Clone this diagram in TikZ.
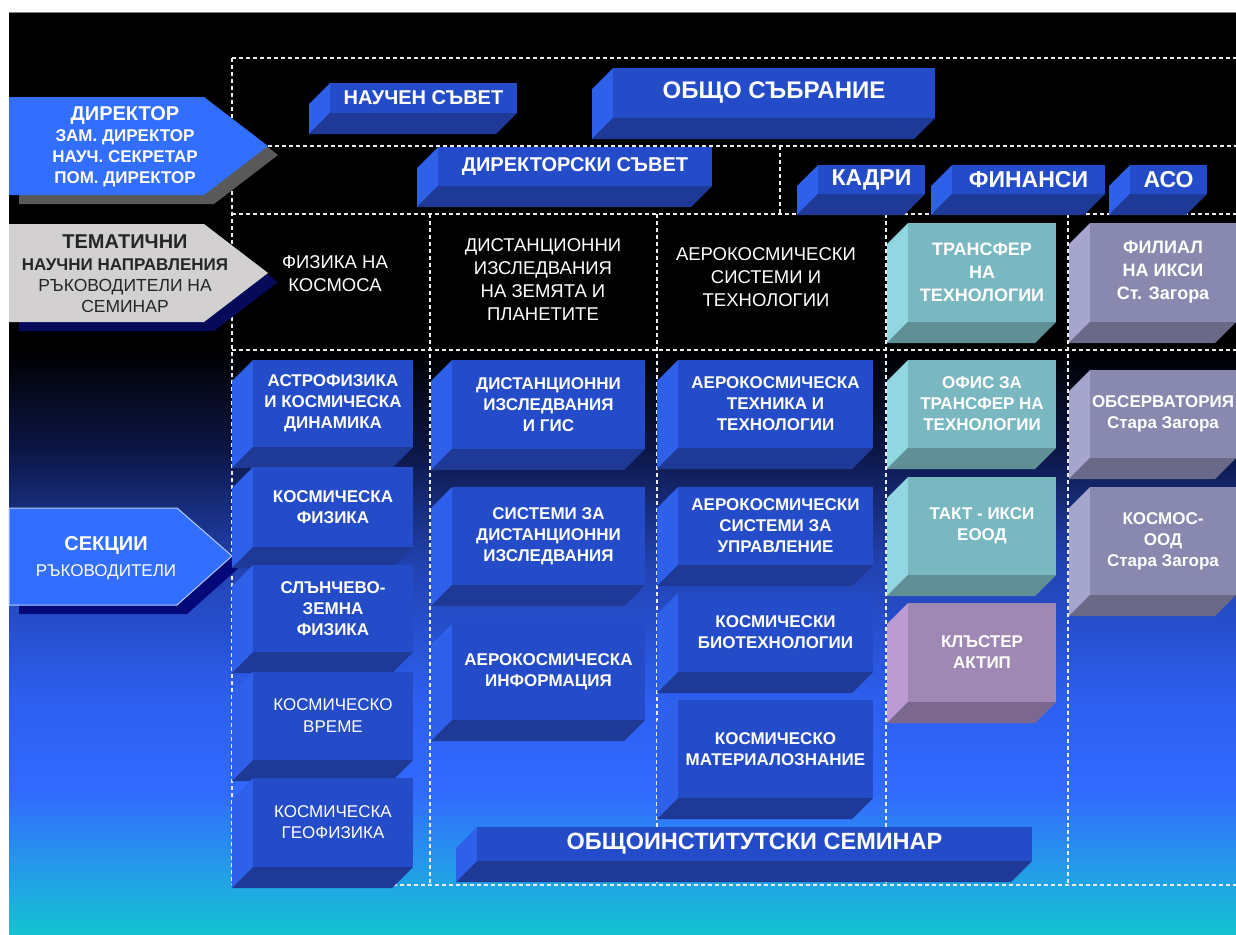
\documentclass[tikz,border=0pt]{standalone}
\usepackage{fontspec}
\setmainfont{Liberation Sans}
\usepackage{tikz}

\definecolor{blueF}{RGB}{36,76,200}
\definecolor{blueL}{RGB}{46,96,234}
\definecolor{blueB}{RGB}{30,57,150}
\definecolor{tealF}{RGB}{122,184,193}
\definecolor{tealL}{RGB}{145,214,224}
\definecolor{tealB}{RGB}{96,144,150}
\definecolor{greyF}{RGB}{137,137,176}
\definecolor{greyL}{RGB}{165,165,206}
\definecolor{greyB}{RGB}{106,106,136}
\definecolor{lilacF}{RGB}{160,136,180}
\definecolor{lilacL}{RGB}{186,156,210}
\definecolor{lilacB}{RGB}{124,104,142}
\definecolor{arrowblue}{RGB}{50,110,255}
\definecolor{arrowgrey}{RGB}{210,208,208}
\definecolor{navyshadow}{RGB}{6,10,88}
\definecolor{bgA}{RGB}{12,22,70}
\definecolor{bgB}{RGB}{33,65,175}
\definecolor{bgC}{RGB}{45,95,240}
\definecolor{bgD}{RGB}{50,105,255}
\definecolor{bgE}{RGB}{38,150,235}
\definecolor{bgF}{RGB}{20,195,210}

% 3D slab: [node options]{name}{x0}{y0}{x1}{y1}{colour}{text}
\newcommand{\slab}[8][]{%
  \fill[#7L] (#3,#4) -- (#3-21,#4+21) -- (#3-21,#6+21) -- (#3,#6) -- cycle;
  \fill[#7B] (#3,#6) -- (#3-21,#6+21) -- (#5-21,#6+21) -- (#5,#6) -- cycle;
  \fill[#7F] (#3,#4) rectangle (#5,#6);
  \node[slabtext,#1] (#2) at ({(#3+#5)/2},{(#4+#6)/2}) {#8};
}

\begin{document}
\begin{tikzpicture}[x=1pt,y=-1pt,
  sepline/.style={draw=white!85!gray, line width=1.2pt, dash pattern=on 4pt off 3pt},
  slabtext/.style={text=white, font=\bfseries\fontsize{17}{21}\selectfont, align=center, inner sep=0pt},
  themetext/.style={text=white, font=\fontsize{18.5}{23}\selectfont, align=center, inner sep=0pt},
  armtext/.style={align=center, inner sep=0pt}]
% background
\fill[white] (0,0) rectangle (1236,934);
\useasboundingbox (0,0) rectangle (1236,934);
\fill[black] (9,12) rectangle (1236,351);
\shade[top color=black, bottom color=bgA] (9,350) rectangle (1236,451);
\shade[top color=bgA, bottom color=bgB] (9,450) rectangle (1236,561);
\shade[top color=bgB, bottom color=bgC] (9,560) rectangle (1236,701);
\shade[top color=bgC, bottom color=bgD] (9,700) rectangle (1236,791);
\shade[top color=bgD, bottom color=bgE] (9,790) rectangle (1236,861);
\shade[top color=bgE, bottom color=bgF] (9,860) rectangle (1236,934);
\draw[gray, line width=1pt] (9,12.5) -- (1236,12.5);
% dashed grid
\draw[sepline] (232,58) -- (1236,58);
\draw[sepline] (268,146) -- (1236,146);
\draw[sepline] (232,214) -- (1236,214);
\draw[sepline] (232,350) -- (1236,350);
\draw[sepline] (232,885) -- (1236,885);
\draw[sepline] (232,58) -- (232,885);
\draw[sepline] (780,146) -- (780,214);
\draw[sepline] (430,214) -- (430,885);
\draw[sepline] (657,214) -- (657,885);
\draw[sepline] (886,214) -- (886,885);
\draw[sepline] (1068,214) -- (1068,885);
% left arrows
\fill[gray!70!black] (19,106) -- (214,106) -- (278,155) -- (214,204) -- (19,204) -- cycle;
\fill[arrowblue] (9,97) -- (204,97) -- (268,146) -- (204,195) -- (9,195) -- cycle;
\node[armtext, text=white, font=\bfseries\fontsize{17}{21}\selectfont] (direktor) at (125,147)
  {{\fontsize{20}{21}\selectfont ДИРЕКТОР}\\ЗАМ. ДИРЕКТОР\\НАУЧ. СЕКРЕТАР\\ПОМ. ДИРЕКТОР};
\fill[navyshadow] (19,233) -- (214,233) -- (278,282) -- (214,331) -- (19,331) -- cycle;
\fill[arrowgrey] (9,224) -- (204,224) -- (268,273) -- (204,322) -- (9,322) -- cycle;
\node[armtext, text=black!85, font=\fontsize{17.5}{21.3}\selectfont] (tematichni) at (125,274)
  {{\bfseries\fontsize{20}{21.3}\selectfont ТЕМАТИЧНИ}\\{\bfseries\fontsize{17}{21.3}\selectfont НАУЧНИ НАПРАВЛЕНИЯ}\\РЪКОВОДИТЕЛИ НА\\СЕМИНАР};
\fill[navyshadow!80!blue] (19,517) -- (187,517) -- (242,565) -- (187,614) -- (19,614) -- cycle;
\filldraw[fill=arrowblue, draw=white!65!arrowblue, line width=1pt] (9,508) -- (177,508) -- (232,556) -- (177,605) -- (9,605) -- cycle;
\node[armtext, text=white, font=\fontsize{17}{26}\selectfont] (sekcii) at (106,558)
  {{\bfseries\fontsize{20}{26}\selectfont СЕКЦИИ}\\РЪКОВОДИТЕЛИ};
% councils
\slab[font=\bfseries\fontsize{20}{24}\selectfont]{nauchen}{330}{83}{517}{113}{blue}{НАУЧЕН СЪВЕТ}
\slab[font=\bfseries\fontsize{24}{28}\selectfont]{obshto}{613}{68}{935}{118}{blue}{ОБЩО СЪБРАНИЕ}
\slab[font=\bfseries\fontsize{20}{24}\selectfont]{direktorski}{438}{147}{712}{186}{blue}{ДИРЕКТОРСКИ СЪВЕТ}
\slab[font=\bfseries\fontsize{23}{27}\selectfont]{kadri}{818}{165}{925}{194}{blue}{КАДРИ}
\slab[font=\bfseries\fontsize{23}{27}\selectfont]{finansi}{952}{165}{1105}{194}{blue}{ФИНАНСИ}
\slab[font=\bfseries\fontsize{23}{27}\selectfont]{aso}{1130}{165}{1207}{194}{blue}{АСО}
% research directions
\node[themetext] (fizika) at (335,274) {ФИЗИКА НА\\КОСМОСА};
\node[themetext] (distzemya) at (543,280) {ДИСТАНЦИОННИ\\ИЗСЛЕДВАНИЯ\\НА ЗЕМЯТА И\\ПЛАНЕТИТЕ};
\node[themetext] (aerosist) at (766,277) {АЕРОКОСМИЧЕСКИ\\СИСТЕМИ И\\ТЕХНОЛОГИИ};
\slab[font=\bfseries\fontsize{18}{23}\selectfont]{transfer}{908}{223}{1056}{322}{teal}{ТРАНСФЕР\\НА\\ТЕХНОЛОГИИ}
\slab[font=\bfseries\fontsize{18}{23}\selectfont]{filial}{1090}{223}{1236}{322}{grey}{ФИЛИАЛ\\НА ИКСИ\\Ст. Загора}
% sections
\slab{astro}{253}{360}{413}{447}{blue}{АСТРОФИЗИКА\\И КОСМИЧЕСКА\\ДИНАМИКА}
\slab{kosmfiz}{253}{467}{413}{547}{blue}{КОСМИЧЕСКА\\ФИЗИКА}
\slab{slanchevo}{253}{565}{413}{652}{blue}{СЛЪНЧЕВО-\\ЗЕМНА\\ФИЗИКА}
\slab[font=\fontsize{17}{22}\selectfont]{vreme}{253}{672}{413}{760}{blue}{КОСМИЧЕСКО\\ВРЕМЕ}
\slab[font=\fontsize{17}{21}\selectfont]{geofiz}{253}{778}{413}{867}{blue}{КОСМИЧЕСКА\\ГЕОФИЗИКА}
\slab{distgis}{452}{360}{645}{449}{blue}{ДИСТАНЦИОННИ\\ИЗСЛЕДВАНИЯ\\И ГИС}
\slab{sistemi}{452}{487}{645}{585}{blue}{СИСТЕМИ ЗА\\ДИСТАНЦИОННИ\\ИЗСЛЕДВАНИЯ}
\slab{aeroinf}{452}{624}{645}{720}{blue}{АЕРОКОСМИЧЕСКА\\ИНФОРМАЦИЯ}
\slab{tehnika}{678}{360}{873}{448}{blue}{АЕРОКОСМИЧЕСКА\\ТЕХНИКА И\\ТЕХНОЛОГИИ}
\slab{upravlenie}{678}{487}{873}{565}{blue}{АЕРОКОСМИЧЕСКИ\\СИСТЕМИ ЗА\\УПРАВЛЕНИЕ}
\slab{biotech}{678}{593}{873}{672}{blue}{КОСМИЧЕСКИ\\БИОТЕХНОЛОГИИ}
\slab{materiali}{678}{700}{873}{798}{blue}{КОСМИЧЕСКО\\МАТЕРИАЛОЗНАНИЕ}
\slab{ofis}{908}{360}{1056}{448}{teal}{ОФИС ЗА\\ТРАНСФЕР НА\\ТЕХНОЛОГИИ}
\slab{takt}{908}{477}{1056}{575}{teal}{ТАКТ - ИКСИ\\ЕООД}
\slab{klaster}{908}{603}{1056}{702}{lilac}{КЛЪСТЕР\\АКТИП}
\slab{observ}{1090}{370}{1236}{458}{grey}{ОБСЕРВАТОРИЯ\\Стара Загора}
\slab{kosmos}{1090}{487}{1236}{595}{grey}{КОСМОС-\\ООД\\Стара Загора}
% seminar
\slab[font=\bfseries\fontsize{23.5}{28}\selectfont]{seminar}{477}{827}{1032}{861}{blue}{ОБЩОИНСТИТУТСКИ СЕМИНАР}
\end{tikzpicture}
\end{document}
